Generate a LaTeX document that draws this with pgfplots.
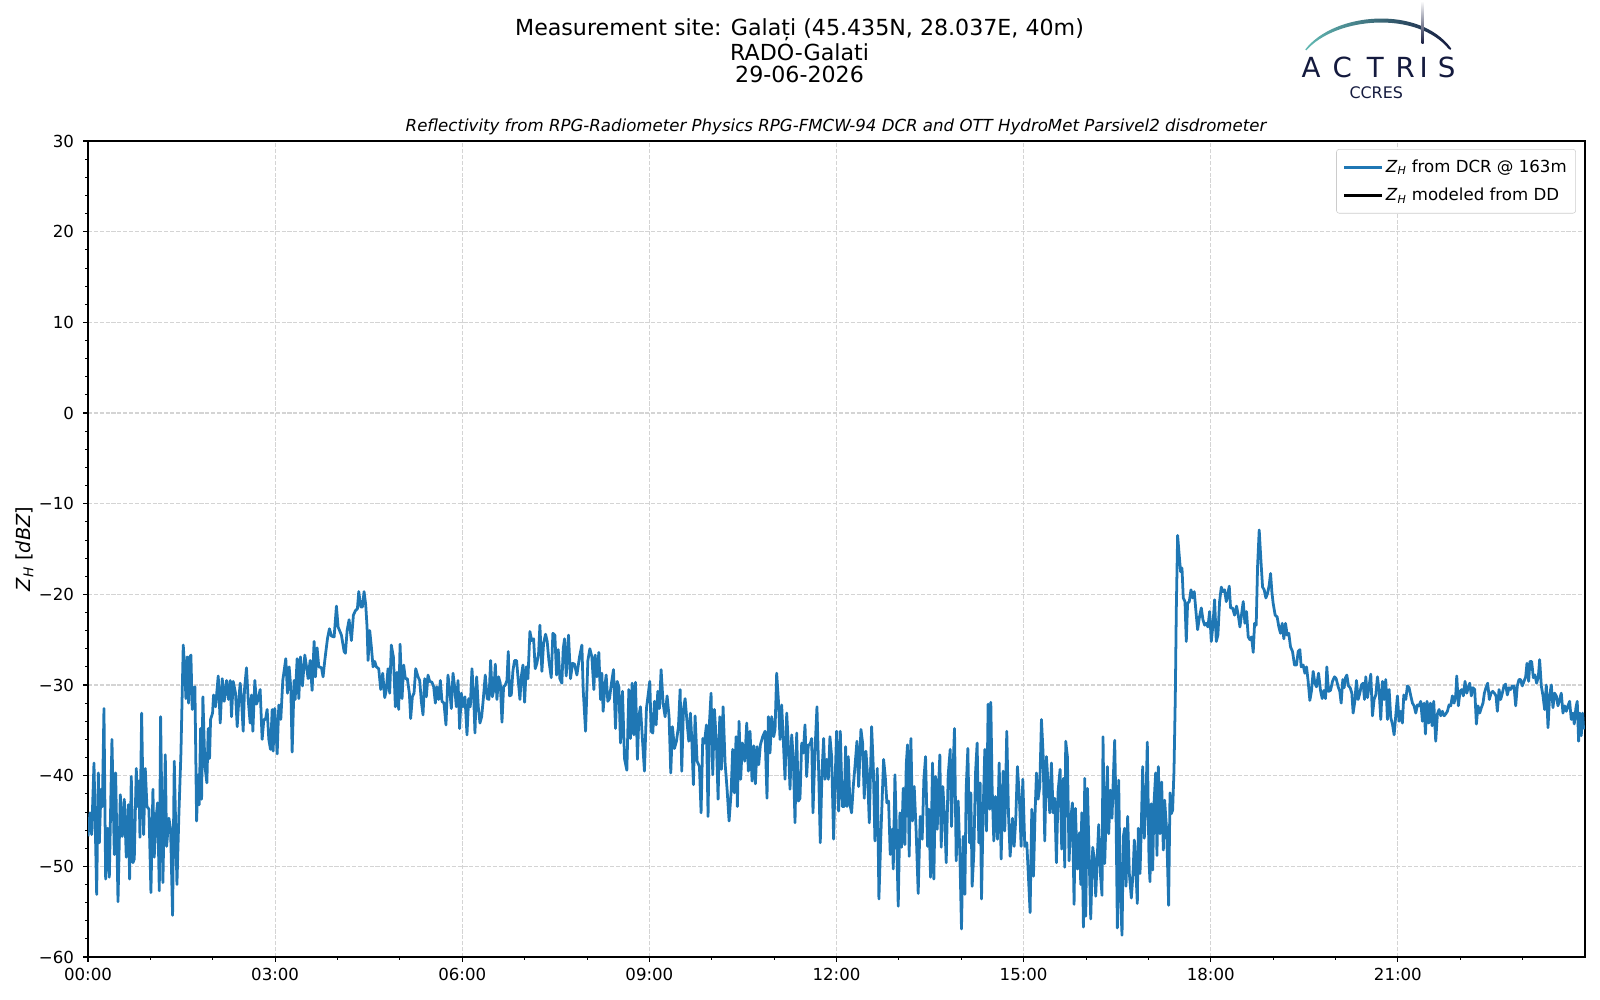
\documentclass[border=0pt]{standalone}
\usepackage{fontspec}
\setmainfont{DejaVu Sans}
\usepackage{pgfplots}
\pgfplotsset{compat=1.18}
\definecolor{mplblue}{HTML}{1F77B4}
\definecolor{navy}{HTML}{141A3E}
\definecolor{tealarc}{HTML}{62B9B3}
\pgfplotstableread{
h v
0.000 -46.7
0.032 -44.1
0.059 -46.5
0.096 -38.6
0.139 -53.1
0.166 -39.7
0.182 -47.4
0.208 -41.5
0.230 -43.4
0.256 -32.6
0.283 -51.4
0.315 -45.8
0.342 -51.2
0.384 -36.0
0.422 -48.7
0.443 -39.7
0.481 -53.9
0.518 -42.1
0.550 -46.7
0.582 -42.6
0.614 -49.0
0.646 -43.2
0.667 -51.4
0.694 -40.1
0.721 -49.6
0.742 -49.2
0.774 -39.2
0.796 -43.4
0.817 -40.6
0.833 -46.8
0.860 -33.1
0.892 -46.5
0.918 -39.2
0.945 -43.4
0.977 -43.7
1.009 -52.9
1.041 -41.5
1.062 -49.0
1.089 -44.8
1.116 -43.0
1.143 -52.7
1.164 -33.5
1.201 -51.8
1.239 -37.7
1.260 -47.8
1.297 -44.7
1.324 -45.9
1.356 -55.4
1.383 -38.4
1.426 -52.0
1.458 -44.1
1.490 -37.5
1.527 -25.6
1.554 -28.7
1.570 -31.5
1.591 -26.9
1.612 -32.0
1.634 -26.9
1.650 -26.7
1.671 -32.7
1.692 -30.4
1.714 -30.2
1.741 -45.0
1.767 -39.9
1.783 -43.2
1.805 -34.8
1.821 -42.6
1.842 -31.3
1.874 -38.9
1.906 -40.8
1.927 -34.8
1.949 -38.1
1.965 -33.8
1.997 -33.1
2.013 -31.1
2.045 -32.4
2.088 -29.0
2.120 -34.2
2.152 -29.3
2.184 -31.8
2.221 -29.5
2.253 -31.6
2.280 -29.5
2.301 -33.5
2.328 -29.6
2.365 -30.9
2.392 -34.6
2.419 -31.5
2.440 -29.8
2.461 -31.6
2.488 -35.1
2.509 -30.5
2.541 -28.1
2.568 -31.6
2.600 -34.2
2.621 -31.1
2.643 -35.1
2.675 -29.5
2.702 -32.1
2.728 -31.6
2.760 -30.5
2.792 -36.0
2.819 -33.8
2.846 -33.8
2.872 -32.7
2.899 -36.0
2.926 -37.1
2.953 -32.7
2.968 -37.3
2.995 -32.6
3.033 -37.6
3.059 -32.2
3.091 -33.8
3.123 -29.5
3.171 -27.1
3.198 -30.9
3.225 -28.0
3.252 -30.4
3.273 -37.4
3.305 -29.5
3.321 -31.6
3.353 -27.1
3.380 -31.5
3.406 -26.9
3.438 -30.1
3.476 -26.7
3.508 -28.2
3.529 -29.3
3.561 -27.3
3.593 -30.6
3.625 -25.2
3.647 -29.1
3.673 -25.9
3.700 -28.0
3.743 -28.1
3.769 -29.1
3.796 -27.3
3.839 -24.9
3.871 -23.8
3.903 -24.6
3.946 -24.7
3.983 -21.3
4.010 -23.6
4.063 -24.5
4.106 -26.3
4.127 -26.5
4.154 -24.0
4.186 -22.8
4.223 -25.1
4.255 -22.3
4.287 -21.8
4.319 -21.6
4.341 -19.7
4.373 -21.4
4.399 -21.4
4.426 -19.7
4.453 -21.2
4.474 -23.6
4.490 -27.3
4.517 -24.0
4.543 -25.8
4.570 -28.0
4.597 -27.4
4.623 -28.0
4.661 -28.2
4.693 -30.5
4.725 -28.7
4.757 -31.4
4.783 -30.5
4.810 -28.2
4.837 -30.9
4.863 -25.6
4.896 -26.9
4.928 -32.4
4.955 -28.6
4.981 -32.7
5.003 -25.5
5.035 -31.5
5.061 -27.8
5.088 -29.3
5.120 -29.3
5.152 -30.9
5.173 -33.7
5.200 -31.3
5.227 -30.9
5.254 -28.2
5.291 -29.1
5.318 -29.5
5.344 -31.8
5.371 -33.3
5.398 -29.3
5.424 -31.3
5.451 -28.9
5.478 -29.6
5.515 -29.7
5.542 -30.2
5.569 -32.0
5.590 -30.2
5.622 -31.6
5.649 -29.5
5.675 -31.8
5.707 -32.0
5.739 -34.4
5.771 -28.9
5.798 -30.5
5.825 -32.6
5.852 -28.7
5.878 -30.2
5.905 -32.4
5.932 -29.5
5.958 -34.8
5.985 -30.9
6.012 -32.4
6.044 -31.3
6.076 -35.5
6.103 -31.5
6.129 -32.4
6.156 -28.2
6.183 -31.3
6.204 -35.3
6.231 -29.1
6.257 -32.4
6.284 -34.2
6.311 -33.5
6.337 -31.6
6.369 -28.9
6.401 -31.5
6.428 -31.6
6.455 -27.3
6.482 -31.3
6.508 -30.5
6.530 -27.7
6.556 -31.6
6.583 -29.1
6.610 -29.8
6.637 -34.1
6.663 -30.2
6.690 -30.0
6.717 -29.5
6.738 -26.3
6.759 -31.2
6.786 -31.1
6.813 -28.4
6.839 -27.3
6.871 -27.3
6.893 -29.1
6.925 -31.6
6.946 -29.1
6.973 -27.8
7.000 -31.9
7.026 -28.0
7.053 -29.3
7.085 -24.1
7.112 -25.1
7.144 -24.9
7.170 -28.2
7.197 -27.6
7.224 -26.5
7.245 -23.4
7.277 -28.5
7.304 -25.4
7.336 -24.4
7.362 -25.2
7.389 -27.3
7.427 -29.2
7.453 -24.3
7.485 -24.5
7.512 -28.9
7.539 -26.1
7.565 -29.3
7.597 -29.8
7.619 -26.0
7.640 -24.9
7.667 -29.0
7.704 -24.5
7.736 -29.3
7.768 -27.6
7.800 -27.7
7.838 -28.9
7.880 -26.9
7.918 -25.6
7.939 -30.5
7.977 -35.1
8.014 -27.3
8.046 -26.0
8.078 -26.9
8.110 -30.5
8.131 -26.7
8.158 -29.1
8.190 -26.4
8.217 -31.6
8.238 -28.7
8.259 -32.9
8.286 -30.2
8.307 -28.9
8.334 -31.8
8.361 -31.5
8.388 -30.0
8.425 -28.3
8.457 -34.8
8.484 -29.6
8.511 -30.2
8.537 -36.4
8.569 -30.7
8.601 -38.1
8.639 -39.4
8.671 -30.5
8.697 -35.9
8.724 -29.8
8.751 -35.5
8.777 -29.7
8.809 -38.2
8.831 -33.5
8.857 -32.4
8.889 -36.0
8.921 -39.5
8.953 -32.6
8.980 -31.1
9.007 -29.6
9.028 -35.1
9.055 -35.3
9.082 -31.8
9.108 -34.4
9.135 -30.7
9.162 -32.6
9.188 -28.3
9.220 -32.0
9.252 -33.5
9.284 -31.2
9.316 -33.5
9.343 -39.7
9.370 -34.6
9.402 -37.0
9.434 -36.2
9.466 -34.6
9.493 -30.5
9.519 -39.5
9.546 -32.7
9.573 -31.5
9.605 -34.2
9.632 -36.2
9.658 -33.1
9.680 -36.0
9.706 -41.0
9.733 -33.4
9.765 -38.4
9.803 -39.0
9.829 -44.1
9.856 -35.9
9.883 -36.4
9.915 -34.4
9.941 -44.5
9.963 -34.2
9.989 -30.9
10.016 -39.9
10.043 -32.7
10.075 -36.4
10.102 -42.6
10.128 -33.5
10.155 -39.3
10.182 -32.4
10.214 -38.6
10.246 -41.5
10.278 -45.0
10.310 -41.9
10.336 -37.1
10.363 -41.9
10.390 -35.7
10.411 -43.4
10.438 -34.0
10.464 -40.4
10.491 -36.4
10.529 -38.4
10.561 -34.2
10.587 -39.5
10.614 -35.1
10.646 -40.6
10.673 -36.7
10.700 -40.9
10.726 -36.8
10.753 -38.8
10.780 -36.6
10.817 -35.7
10.854 -35.1
10.886 -42.5
10.908 -33.5
10.934 -37.5
10.961 -33.5
10.993 -35.7
11.015 -34.9
11.041 -28.7
11.068 -31.6
11.095 -36.0
11.121 -32.2
11.148 -36.2
11.175 -40.4
11.202 -33.1
11.228 -36.6
11.255 -41.5
11.282 -35.5
11.308 -38.2
11.335 -45.2
11.362 -35.3
11.388 -42.8
11.415 -42.5
11.442 -36.4
11.468 -37.5
11.495 -34.4
11.522 -40.1
11.548 -36.6
11.575 -36.6
11.602 -35.9
11.623 -44.1
11.655 -37.3
11.687 -32.4
11.714 -39.5
11.740 -47.4
11.767 -39.7
11.794 -35.9
11.815 -40.4
11.842 -38.2
11.869 -40.4
11.895 -35.7
11.922 -37.9
11.954 -47.0
11.975 -41.2
12.002 -35.1
12.034 -43.9
12.061 -35.1
12.093 -43.4
12.125 -43.4
12.146 -36.8
12.168 -43.4
12.189 -37.9
12.216 -43.2
12.242 -44.1
12.269 -41.2
12.296 -39.0
12.328 -36.2
12.355 -41.2
12.392 -34.9
12.419 -36.4
12.445 -42.5
12.472 -37.3
12.499 -40.1
12.526 -45.2
12.563 -34.6
12.590 -39.0
12.616 -47.2
12.654 -39.2
12.680 -53.6
12.712 -46.5
12.755 -38.2
12.782 -40.1
12.808 -43.0
12.835 -42.8
12.862 -48.7
12.894 -45.9
12.910 -50.3
12.937 -39.9
12.963 -46.7
12.990 -54.4
13.017 -44.1
13.043 -47.9
13.070 -41.4
13.097 -47.6
13.118 -38.8
13.139 -36.6
13.166 -48.9
13.193 -35.9
13.219 -45.0
13.246 -41.2
13.278 -46.3
13.310 -53.0
13.342 -44.5
13.374 -47.0
13.401 -40.4
13.428 -37.9
13.460 -47.8
13.481 -43.7
13.508 -51.2
13.540 -38.6
13.561 -51.4
13.588 -40.1
13.615 -45.9
13.636 -41.2
13.657 -37.7
13.679 -47.9
13.705 -41.2
13.737 -45.2
13.759 -49.6
13.791 -39.9
13.823 -37.1
13.844 -45.6
13.865 -40.1
13.892 -34.8
13.919 -49.4
13.951 -42.8
13.978 -48.7
14.004 -56.9
14.031 -46.7
14.058 -53.1
14.079 -41.5
14.106 -37.0
14.133 -47.4
14.154 -41.9
14.175 -52.2
14.202 -48.5
14.229 -39.7
14.255 -36.4
14.282 -47.4
14.303 -40.8
14.325 -53.6
14.351 -44.1
14.378 -37.1
14.405 -46.1
14.431 -32.1
14.458 -43.7
14.474 -31.9
14.495 -41.2
14.522 -47.2
14.549 -42.3
14.581 -47.0
14.608 -38.6
14.640 -49.2
14.672 -39.5
14.698 -46.1
14.730 -35.1
14.757 -44.1
14.784 -48.9
14.821 -44.7
14.848 -47.8
14.874 -44.8
14.901 -39.0
14.933 -42.5
14.960 -47.8
14.987 -40.4
15.019 -47.8
15.051 -47.4
15.077 -51.1
15.104 -55.1
15.131 -43.7
15.158 -51.1
15.184 -44.1
15.206 -39.7
15.232 -42.6
15.259 -41.2
15.286 -33.8
15.312 -37.5
15.339 -47.2
15.366 -37.9
15.393 -41.0
15.419 -44.1
15.446 -38.6
15.473 -44.1
15.499 -42.5
15.526 -49.6
15.553 -41.7
15.585 -39.3
15.611 -48.1
15.638 -40.3
15.659 -50.1
15.675 -36.2
15.702 -37.9
15.729 -49.4
15.756 -44.8
15.782 -43.0
15.809 -54.2
15.830 -43.6
15.862 -50.3
15.895 -46.3
15.916 -52.0
15.932 -44.1
15.959 -56.7
15.980 -40.3
15.996 -55.5
16.023 -41.4
16.049 -48.5
16.076 -55.8
16.108 -47.9
16.135 -49.3
16.156 -53.3
16.183 -48.6
16.204 -45.4
16.231 -50.8
16.257 -53.2
16.273 -35.7
16.300 -49.7
16.321 -44.9
16.343 -39.0
16.364 -46.4
16.391 -41.6
16.417 -44.7
16.439 -40.1
16.460 -36.1
16.481 -43.8
16.503 -56.8
16.524 -40.5
16.551 -53.3
16.578 -57.6
16.599 -46.7
16.620 -45.8
16.642 -52.2
16.668 -44.5
16.695 -50.8
16.727 -53.5
16.754 -50.8
16.775 -47.1
16.802 -50.8
16.823 -54.1
16.839 -45.8
16.866 -50.8
16.887 -45.6
16.909 -39.0
16.935 -46.9
16.962 -42.7
16.983 -36.3
17.010 -49.3
17.026 -51.7
17.047 -43.1
17.069 -50.4
17.090 -43.1
17.117 -39.7
17.138 -48.8
17.160 -39.0
17.186 -46.4
17.213 -40.7
17.240 -48.2
17.261 -42.7
17.293 -46.0
17.325 -54.3
17.347 -41.9
17.368 -44.2
17.389 -43.8
17.411 -39.4
17.432 -31.3
17.448 -21.7
17.469 -13.5
17.496 -15.8
17.517 -17.5
17.539 -17.1
17.560 -20.4
17.587 -20.8
17.608 -25.2
17.629 -21.0
17.656 -20.8
17.683 -19.5
17.710 -20.4
17.736 -19.7
17.763 -21.9
17.790 -23.9
17.817 -22.6
17.849 -21.5
17.875 -22.8
17.902 -23.4
17.929 -23.2
17.955 -23.6
17.982 -21.9
18.009 -25.2
18.035 -23.4
18.062 -20.6
18.089 -25.2
18.115 -24.5
18.142 -20.8
18.169 -19.2
18.196 -19.7
18.222 -19.5
18.249 -20.8
18.270 -20.1
18.297 -19.1
18.318 -21.5
18.350 -21.5
18.382 -22.3
18.414 -21.3
18.441 -22.3
18.468 -23.6
18.500 -21.9
18.521 -20.8
18.548 -23.2
18.574 -21.9
18.601 -24.7
18.628 -25.0
18.655 -24.7
18.681 -26.4
18.703 -23.2
18.729 -23.4
18.751 -16.9
18.777 -12.9
18.804 -16.2
18.831 -19.2
18.857 -19.5
18.884 -20.4
18.911 -19.9
18.937 -19.0
18.959 -17.7
18.980 -19.7
19.001 -21.0
19.033 -22.3
19.065 -22.5
19.092 -23.6
19.119 -24.3
19.146 -23.2
19.172 -24.9
19.199 -23.2
19.226 -24.5
19.252 -24.3
19.279 -25.8
19.311 -26.3
19.343 -27.8
19.375 -27.8
19.402 -26.3
19.429 -26.1
19.450 -28.0
19.482 -27.8
19.509 -28.7
19.536 -28.0
19.562 -29.6
19.589 -31.7
19.616 -30.6
19.642 -28.5
19.669 -29.8
19.696 -30.2
19.728 -28.7
19.760 -30.6
19.787 -31.5
19.813 -30.6
19.840 -31.5
19.861 -28.0
19.888 -30.7
19.920 -30.6
19.952 -29.6
19.984 -29.1
20.011 -29.3
20.043 -30.2
20.069 -30.7
20.091 -32.0
20.117 -29.4
20.139 -30.3
20.160 -29.2
20.182 -28.9
20.208 -30.1
20.235 -30.3
20.262 -30.9
20.283 -33.1
20.310 -31.8
20.336 -29.5
20.363 -31.6
20.390 -30.9
20.416 -30.0
20.443 -29.8
20.465 -31.6
20.486 -29.1
20.513 -31.4
20.539 -30.1
20.566 -28.8
20.593 -33.4
20.619 -31.6
20.646 -31.1
20.673 -29.1
20.700 -30.7
20.726 -33.8
20.753 -29.6
20.780 -31.6
20.806 -29.4
20.833 -33.8
20.860 -30.5
20.886 -33.6
20.913 -34.3
20.940 -35.5
20.966 -33.4
20.993 -31.2
21.020 -34.0
21.047 -32.9
21.073 -34.2
21.095 -31.1
21.127 -31.6
21.153 -30.1
21.180 -30.3
21.207 -31.2
21.234 -32.0
21.260 -32.3
21.287 -33.1
21.314 -32.2
21.340 -32.3
21.367 -31.8
21.394 -34.0
21.420 -32.0
21.442 -35.4
21.468 -31.8
21.495 -34.2
21.522 -32.0
21.549 -34.5
21.575 -31.8
21.607 -36.2
21.634 -33.2
21.661 -32.7
21.687 -33.4
21.714 -32.9
21.741 -33.4
21.767 -33.2
21.794 -32.9
21.821 -32.2
21.848 -32.3
21.874 -31.2
21.901 -32.0
21.928 -31.1
21.944 -29.0
21.970 -32.3
21.997 -30.7
22.024 -30.5
22.050 -31.2
22.077 -29.6
22.104 -30.9
22.130 -30.3
22.152 -29.8
22.178 -31.2
22.205 -30.3
22.232 -30.5
22.259 -34.3
22.285 -32.3
22.312 -33.1
22.339 -32.5
22.365 -32.0
22.387 -30.9
22.413 -30.3
22.440 -29.8
22.467 -31.6
22.493 -30.9
22.520 -30.7
22.547 -30.9
22.574 -31.2
22.595 -32.9
22.622 -30.5
22.648 -31.6
22.675 -30.9
22.702 -30.1
22.728 -29.9
22.755 -31.1
22.782 -30.3
22.808 -30.5
22.835 -30.1
22.862 -30.1
22.889 -32.3
22.915 -30.1
22.942 -29.4
22.968 -29.4
22.995 -30.1
23.022 -29.6
23.049 -29.1
23.070 -27.6
23.097 -29.6
23.118 -27.4
23.145 -27.4
23.172 -29.2
23.198 -28.9
23.225 -29.8
23.252 -29.1
23.273 -27.2
23.300 -30.1
23.327 -31.2
23.353 -32.7
23.380 -30.0
23.407 -34.7
23.433 -31.2
23.460 -30.0
23.487 -32.5
23.513 -30.9
23.540 -31.2
23.567 -32.3
23.593 -31.6
23.620 -30.9
23.647 -33.1
23.674 -32.3
23.700 -32.9
23.727 -32.3
23.754 -31.8
23.780 -33.8
23.807 -33.1
23.828 -34.3
23.855 -32.5
23.876 -31.8
23.898 -36.2
23.919 -33.1
23.940 -35.6
23.962 -33.1
23.978 -34.9
}\zhdata
\begin{document}
\begin{tikzpicture}
\path[use as bounding box] (0,0) rectangle (16in,10in);
\begin{axis}[
  at={(0.88in,0.43in)}, anchor=south west,
  scale only axis, width=14.97in, height=8.16in,
  xmin=0, xmax=24, ymin=-60, ymax=30,
  xtick={0,3,...,21},
  xticklabels={00:00,03:00,06:00,09:00,12:00,15:00,18:00,21:00},
  minor xtick={1,2,4,5,7,8,10,11,13,14,16,17,19,20,22,23},
  ytick={-60,-50,...,30},
  yticklabels={−60,−50,−40,−30,−20,−10,0,10,20,30},
  minor y tick num=4,
  tick align=outside, tick pos=left,
  major tick length=3.5pt, minor tick length=2pt,
  every tick/.style={black, line width=0.8pt},
  minor tick style={line width=0.6pt},
  axis line style={line width=0.8pt},
  grid=major,
  major grid style={line width=0.8pt, draw=black!17, dash pattern=on 2.96pt off 1.28pt},
  xticklabel style={font=\fontsize{12}{14}\selectfont, inner sep=0pt, yshift=-4.2pt},
  yticklabel style={font=\fontsize{12}{14}\selectfont, inner sep=0pt, xshift=-6.5pt},
  ylabel={\textit{Z}\textsubscript{\textit{H}} [\textit{dBZ}]},
  every axis y label/.style={at={(axis description cs:-0.0424,0.5)}, rotate=90, anchor=center, font=\fontsize{14}{16}\selectfont},
  legend style={at={(1,1)}, anchor=north east, xshift=-6.5pt, yshift=-5.8pt,
    draw=black!20, rounded corners=2pt, fill=white,
    font=\fontsize{12}{14}\selectfont, row sep=6pt, inner xsep=4.5pt, inner ysep=5.5pt},
  legend cell align=left,
  legend image code/.code={\draw[#1] (0pt,0pt) -- (27pt,0pt);},
]
\addplot[color=mplblue, line width=2pt, line join=round, no markers, forget plot] table[x=h, y=v] {\zhdata};
\addlegendimage{draw=mplblue, line width=2.2pt}
\addlegendentry{\textit{Z}\textsubscript{\textit{H}} from DCR @ 163m}
\addlegendimage{draw=black, line width=2pt}
\addlegendentry{\textit{Z}\textsubscript{\textit{H}} modeled from DD}
\end{axis}
\begin{scope}[shift={(0,10in)}, x=0.01in, y=-0.01in]
\node[anchor=base, inner sep=0pt, font=\fontsize{16}{19}\selectfont] at (800,36) {Measurement site: Galați (45.435N, 28.037E, 40m)};
\node[anchor=base, inner sep=0pt, font=\fontsize{16}{19}\selectfont] at (800,60.5) {RADO-Galati};
\node[anchor=base, inner sep=0pt, font=\fontsize{16}{19}\selectfont] at (800,83) {29-06-2026};
\node[anchor=base, inner sep=0pt, font=\fontsize{12}{14}\selectfont\itshape] at (836.5,132) {Reflectivity from RPG-Radiometer Physics RPG-FMCW-94 DCR and OTT HydroMet Parsivel2 disdrometer};
% ACTRIS logo
\shade[left color=tealarc, right color=navy]
  (1306,49.5) .. controls (1335,12) and (1420,5) .. (1452,48.5)
  .. controls (1452.5,49.5) and (1451,50) .. (1450,49.5)
  .. controls (1418,10) and (1336,17) .. (1307,50.5) -- cycle;
\shade[top color=white, bottom color=navy] (1422.3,1) rectangle (1424.3,44);
\foreach \c/\xx in {A/1311.7,C/1343,T/1376,R/1406,I/1424.5,S/1447.5}
  \node[anchor=base, inner sep=0pt, text=navy, font=\fontsize{20}{22}\selectfont] at (\xx,77.3) {\c};
\node[anchor=base, inner sep=0pt, text=navy, font=\fontsize{11.5}{13}\selectfont] at (1377,99) {CCRES};
\end{scope}
\end{tikzpicture}
\end{document}
